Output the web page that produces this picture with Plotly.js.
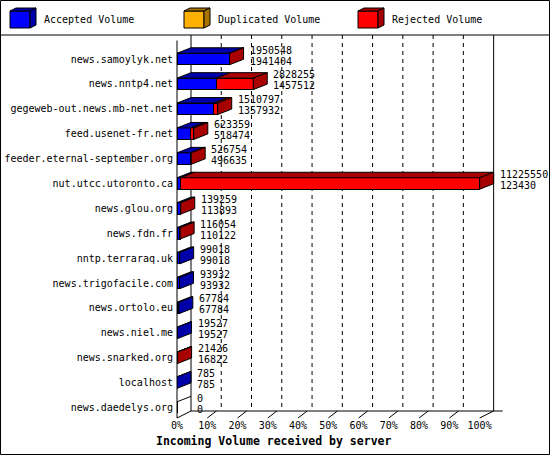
<!DOCTYPE html>
<html><head><meta charset="utf-8">
<script src="https://cdn.plot.ly/plotly-3.0.1.min.js"></script>
<style>html,body{margin:0;padding:0;background:#fff}#chart{width:550px;height:455px}</style>
</head><body><div id="chart"></div><script>
const servers=['news.samoylyk.net','news.nntp4.net','gegeweb-out.news.mb-net.net','feed.usenet-fr.net','feeder.eternal-september.org','nut.utcc.utoronto.ca','news.glou.org','news.fdn.fr','nntp.terraraq.uk','news.trigofacile.com','news.ortolo.eu','news.niel.me','news.snarked.org','localhost','news.daedelys.org'];
const totalVolume=[1950548,2828255,1510797,623359,526754,11225550,139259,116054,99018,93932,67784,19527,21426,785,0];
const acceptedVolume=[1941404,1457512,1357932,518474,496635,123430,113893,110122,99018,93932,67784,19527,16822,785,0];
const duplicatedVolume=[0,0,0,0,0,0,0,0,0,0,0,0,0,0,0];
const percentTicks=[0,10,20,30,40,50,60,70,80,90,100];
const seriesNames=['Accepted Volume','Duplicated Volume','Rejected Volume'];
const axisTitle='Incoming Volume received by server';

// layout geometry (pixels)
const FW=550,FH=455,L=177,T=35,PW=345,PH=383;
const XMAX=114,YTOP=-0.964,YBOT=14.42;
const pxPerPct=PW/XMAX,pxPerRow=PH/(YBOT-YTOP);
const dx=14/pxPerPct,dy=5.5/pxPerRow,barH=0.46;
const front=['#0000FF','#FFB000','#FF0000'];
const dark=['#0000A8','#A87400','#A80000'];
const MONO='DejaVu Sans Mono, monospace';

const maxTotal=Math.max(...totalVolume);
const pct=v=>v/maxTotal*100;
const rejectedVolume=totalVolume.map((t,i)=>t-acceptedVolume[i]-duplicatedVolume[i]);
const series=[acceptedVolume,duplicatedVolume,rejectedVolume];
const rows=servers.map((_,i)=>i);

const traces=[];
series.forEach((s,k)=>traces.push({type:'bar',orientation:'h',y:rows,x:s.map(pct),width:barH,
  marker:{color:front[k],line:{color:'#000',width:1}},name:seriesNames[k],showlegend:false,hoverinfo:'skip'}));

const topF=[0,1,2].map(()=>({x:[],y:[]}));
const sideF=[0,1,2].map(()=>({x:[],y:[]}));
const zeroL={x:[],y:[]};
function poly(o,pts){pts.forEach(p=>{o.x.push(p[0]);o.y.push(p[1]);});o.x.push(pts[0][0],null);o.y.push(pts[0][1],null);}
rows.forEach(i=>{
  const yT=i-barH/2,yB=i+barH/2;
  let cum=0,last=-1;
  series.forEach((s,k)=>{const v=pct(s[i]);
    if(v>0){poly(topF[k],[[cum,yT],[cum+v,yT],[cum+v+dx,yT-dy],[cum+dx,yT-dy]]);last=k;}
    cum+=v;});
  if(last>=0){poly(sideF[last],[[cum,yT],[cum+dx,yT-dy],[cum+dx,yB-dy],[cum,yB]]);}
  else{zeroL.x.push(0,dx,null);zeroL.y.push(yT,yT-dy,null);}
});
[0,1,2].forEach(k=>{
  [topF[k],sideF[k]].forEach(f=>{ if(f.x.length) traces.push({type:'scatter',mode:'lines',x:f.x,y:f.y,fill:'toself',
    fillcolor:dark[k],line:{color:'#000',width:1},hoverinfo:'skip',showlegend:false});});
});
traces.push({type:'scatter',mode:'lines',x:zeroL.x,y:zeroL.y,line:{color:'#000',width:1},hoverinfo:'skip',showlegend:false});

const annotations=[];
rows.forEach(i=>{
  const xa=pct(totalVolume[i])+dx;
  annotations.push({x:xa,y:i,xref:'x',yref:'y',xanchor:'left',yanchor:'middle',xshift:4,yshift:9,showarrow:false,
    text:String(totalVolume[i]),font:{family:MONO,size:10,color:'#000'}});
  annotations.push({x:xa,y:i,xref:'x',yref:'y',xanchor:'left',yanchor:'middle',xshift:4,yshift:-2,showarrow:false,
    text:String(acceptedVolume[i]),font:{family:MONO,size:10,color:'#000'}});
});
// pixel -> paper helpers
const px=p=>(p-L)/PW, py=p=>1-(p-T)/PH;
const xp=v=>v/XMAX, yp=v=>(YBOT-v)/(YBOT-YTOP);
annotations.push({x:px(273),y:py(441),xref:'paper',yref:'paper',xanchor:'center',yanchor:'middle',showarrow:false,
  text:'<b>'+axisTitle+'</b>',font:{family:MONO,size:11.5,color:'#000'}});

const shapes=[];
const ln=(x0,y0,x1,y1,extra)=>shapes.push(Object.assign({type:'line',xref:'paper',yref:'paper',layer:'below',x0,y0,x1,y1,line:{color:'#000',width:1}},extra||{}));
const floorBack=YBOT-7/pxPerRow,floorFront=YBOT;
// frame
shapes.push({type:'rect',xref:'paper',yref:'paper',x0:px(0.5),y0:py(0.5),x1:px(549.5),y1:py(454.5),line:{color:'#000',width:1}});
ln(px(0),py(35),px(550),py(35));
// 3D box walls
ln(xp(dx),yp(YTOP),xp(dx),yp(floorBack));
ln(xp(0),yp(YTOP+dy),xp(0),yp(floorFront));
ln(xp(100+dx),yp(YTOP),xp(100+dx),yp(floorBack));
ln(xp(dx),yp(floorBack),xp(100+dx+9/pxPerPct),yp(floorBack));
ln(xp(dx),yp(floorBack),xp(0),yp(floorFront));
percentTicks.forEach(t=>{
  if(t>0&&t<100) ln(xp(t+dx),yp(YTOP),xp(t+dx),yp(floorBack),{line:{color:'#000',width:1,dash:'4px,4px'}});
  if(t>0&&t<100) ln(xp(t),yp(floorFront),xp(t+0.65*dx),yp(floorBack));
  if(t===100) ln(xp(t),yp(floorFront),xp(t+dx),yp(floorBack));
});
// legend
const legX=[10,184,358],legT=[42,216,390];
const path=pts=>'M'+pts.map(p=>px(p[0])+','+py(p[1])).join(' L')+' Z';
seriesNames.forEach((n,k)=>{
  const x0=legX[k];
  shapes.push({type:'path',xref:'paper',yref:'paper',path:path([[x0,11],[x0+20,11],[x0+20,28],[x0,28]]),fillcolor:front[k],line:{color:'#000',width:1}});
  shapes.push({type:'path',xref:'paper',yref:'paper',path:path([[x0,11],[x0+20,11],[x0+26,8],[x0+6,8]]),fillcolor:dark[k],line:{color:'#000',width:1}});
  shapes.push({type:'path',xref:'paper',yref:'paper',path:path([[x0+20,11],[x0+26,8],[x0+26,25],[x0+20,28]]),fillcolor:dark[k],line:{color:'#000',width:1}});
  annotations.push({x:px(legT[k]),y:py(20),xref:'paper',yref:'paper',xanchor:'left',yanchor:'middle',showarrow:false,
    text:n,font:{family:MONO,size:10,color:'#000'}});
});

const layout={width:FW,height:FH,autosize:false,margin:{l:L,r:FW-L-PW,t:T,b:FH-T-PH,pad:0},
  paper_bgcolor:'#fff',plot_bgcolor:'rgba(0,0,0,0)',barmode:'stack',showlegend:false,
  xaxis:{range:[0,XMAX],tickmode:'array',tickvals:percentTicks,ticktext:percentTicks.map(t=>t+'%'),
    showgrid:false,zeroline:false,showline:false,ticks:'',tickfont:{family:MONO,size:10,color:'#000'},fixedrange:true},
  yaxis:{range:[YBOT,YTOP],tickmode:'array',tickvals:rows,ticktext:servers,showgrid:false,zeroline:false,showline:false,
    ticks:'',tickfont:{family:MONO,size:10,color:'#000'},ticklabelstandoff:3,fixedrange:true},
  shapes,annotations};
Plotly.newPlot('chart',traces,layout,{staticPlot:true,displayModeBar:false});
</script></body></html>
